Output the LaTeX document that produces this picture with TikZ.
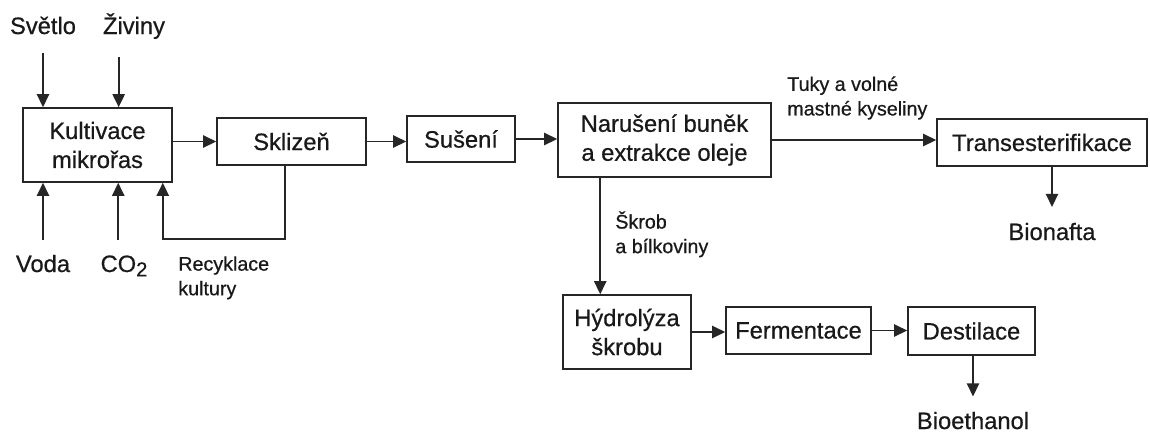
\documentclass[tikz,border=0pt]{standalone}
\usepackage{fontspec}
\setmainfont{Liberation Sans}[UprightFeatures={FakeBold=0.6}]
\usetikzlibrary{arrows.meta,calc}

\begin{document}
\begin{tikzpicture}[
    x=0.02cm, y=-0.02cm,
    >={Triangle[length=7.5pt,width=7pt]},
    box/.style={
        draw=black!85,
        line width=0.9pt,
        align=center,
        inner sep=0pt,
        text=black!90,
        font=\fontsize{13.5}{16.5}\selectfont
    },
    lbl/.style={
        inner sep=0pt,
        text=black!90,
        font=\fontsize{13.5}{16.5}\selectfont
    },
    small/.style={
        inner sep=0pt,
        align=left,
        text=black!90,
        font=\fontsize{11.2}{14}\selectfont
    },
    arr/.style={
        ->,
        line width=1pt,
        black!85
    }
]

% Plocha
\fill[white] (0,0) rectangle (1150,434);
\useasboundingbox (0,0) rectangle (1150,434);

% Bloky
\node[box, minimum width=2.98cm, minimum height=1.48cm] (kult) at (97.5,145) {Kultivace\\mikrořas};
\node[box, minimum width=2.98cm, minimum height=0.94cm] (skl) at (291.5,141.5) {Sklizeň};
\node[box, minimum width=2.16cm, minimum height=0.92cm] (sus) at (461,139) {Sušení};
\node[box, minimum width=4.26cm, minimum height=1.48cm] (nar) at (664.5,140) {Narušení buněk\\a extrakce oleje};
\node[box, minimum width=4.20cm, minimum height=0.94cm] (trans) at (1042,142.5) {Transesterifikace};
\node[box, minimum width=2.56cm, minimum height=1.48cm] (hydr) at (627,332) {Hýdrolýza\\škrobu};
\node[box, minimum width=2.90cm, minimum height=0.94cm] (ferm) at (798.5,330.5) {Fermentace};
\node[box, minimum width=2.54cm, minimum height=0.96cm] (dest) at (971.5,331) {Destilace};

% Vstupy a produkty
\node[lbl, anchor=base] (svetlo) at (43,34) {Světlo};
\node[lbl, anchor=base] (ziviny) at (134,34) {Živiny};
\node[lbl, anchor=base] (voda) at (43,272) {Voda};
\node[lbl, anchor=base] (co) at (124,272) {CO\raisebox{-0.35ex}{\fontsize{11.5}{11.5}\selectfont 2}};
\node[lbl, anchor=base] (bion) at (1052,240) {Bionafta};
\node[lbl, anchor=base] (bioe) at (973,429) {Bioethanol};

% Popisky toku
\node[small, anchor=north west] (tuky) at (787,76) {Tuky a volné\\mastné kyseliny};
\node[small, anchor=north west] (skrob) at (615,211) {Škrob\\a bílkoviny};
\node[small, anchor=north west] (recyk) at (178,256) {Recyklace\\kultury};

% Vstupy shora
\draw[arr, shorten <=0.36cm] (svetlo.south) -- (svetlo.south |- kult.north);
\coordinate (zivIn) at ($(ziviny.south west)+(16,18)$);
\draw[arr] (zivIn) -- (zivIn |- kult.north);

% Vstupy zdola
\draw[arr, shorten <=0.29cm] (voda.north) -- (voda.north |- kult.south);
\coordinate (coIn) at ($(co.north west)+(18,-15)$);
\draw[arr] (coIn) -- (coIn |- kult.south);

% Recyklace kultury
\draw[arr] ([xshift=-0.13cm]skl.south) -- ++(0,73) -| ([xshift=-0.2cm]kult.south east);

% Hlavni linka
\draw[arr] (kult.east |- skl.west) -- (skl.west);
\draw[arr] (skl.east) -- (skl.east -| sus.west);
\draw[arr] (sus.east) -- (sus.east -| nar.west);
\draw[arr] (nar.east) -- (nar.east -| trans.west);
\draw[arr, shorten >=0.31cm] (bion |- trans.south) -- (bion.north);

% Vetev skrobu
\coordinate (narOut) at ($(nar.south west)+(43,0)$);
\draw[arr] (narOut) -- (narOut |- hydr.north);
\draw[arr] (hydr.east) -- (hydr.east -| ferm.west);
\draw[arr] (ferm.east) -- (ferm.east -| dest.west);
\draw[arr, shorten >=0.3cm] (bioe |- dest.south) -- (bioe.north);

\end{tikzpicture}
\end{document}
